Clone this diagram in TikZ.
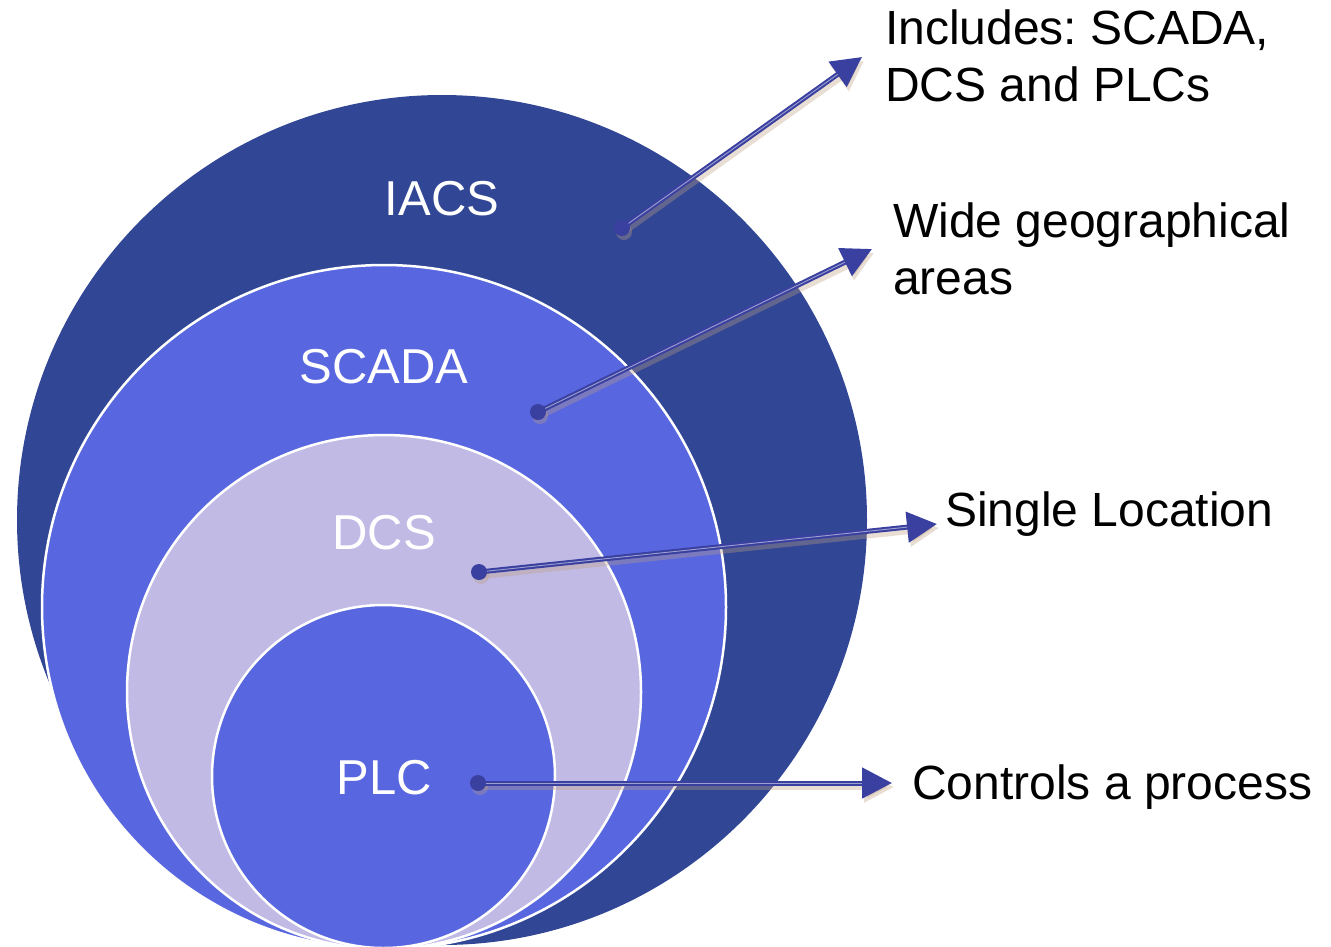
\documentclass[tikz,border=0pt]{standalone}
\usepackage{fontspec}
\setmainfont{Liberation Sans}
\frenchspacing
\usetikzlibrary{arrows.meta,calc}
\definecolor{iacscol}{RGB}{49,70,148}
\definecolor{scadacol}{RGB}{88,103,224}
\definecolor{dcscol}{RGB}{192,186,229}
\definecolor{arrcol}{RGB}{58,64,160}
\definecolor{shadcol}{RGB}{190,160,130}
\tikzset{
  ring/.style={circle, inner sep=0pt, line width=2.5pt},
  inlabel/.style={text=white, font=\fontsize{49}{57}\selectfont, anchor=base, inner sep=0pt},
  outlabel/.style={text=black, font=\fontsize{48}{57}\selectfont, anchor=north west, align=left, inner sep=0pt},
  conn/.style={draw=arrcol, line width=5pt, -{Triangle[length=30pt,width=30pt]}},
  connshadow/.style={draw=shadcol, opacity=.35, line width=6pt, -{Triangle[length=30pt,width=30pt]}},
  stripe/.style={draw=white, opacity=.5, line width=.9pt},
  dot/.style={fill=arrcol}
}
\begin{document}
\begin{tikzpicture}[x=1pt,y=-1pt]
\useasboundingbox (0,0) rectangle (1331,946);
\begin{scope}
\clip (0,0) rectangle (1331,946);
\node[ring, fill=iacscol, minimum size=850pt] (iacs) at (442,520) {};
\node[ring, fill=scadacol, draw=white, minimum size=684pt] (scada) at (384,607) {};
\node[ring, fill=dcscol, draw=white, minimum size=514pt] (dcs) at (384,692) {};
\node[ring, fill=scadacol, draw=white, minimum size=343pt] (plc) at (383.5,776.5) {};
\end{scope}

\node[inlabel] (liacs) at (442,215) {IACS};
\node[inlabel] (lscada) at (384,383) {SCADA};
\node[inlabel] (ldcs) at (384,549) {DCS};
\node[inlabel] (lplc) at (384,794) {PLC};

\node[outlabel] (t1) at (885,10) {Includes: SCADA,\\DCS and PLCs};
\node[outlabel] (t2) at (893,203) {Wide geographical\\areas};
\node[outlabel] (t3) at (945,492) {Single Location};
\node[outlabel] (t4) at (912,765) {Controls a process};

\coordinate (d1) at (622,228); \coordinate (e1) at (862,57);
\coordinate (d2) at (538,412); \coordinate (e2) at (872,249);
\coordinate (d3) at (479,572); \coordinate (e3) at (937,524);
\coordinate (d4) at (478,783); \coordinate (e4) at (892,783);

\foreach \i in {1,2,3,4}{
  \draw[connshadow] ([shift={(2,4)}]d\i) -- ([shift={(2,4)}]e\i);
  \fill[shadcol, opacity=.35] ([shift={(2,4)}]d\i) circle (8);
}
\foreach \i in {1,2,3,4}{
  \draw[conn] (d\i) -- (e\i);
  \draw[stripe] (d\i) -- ($(e\i)!30pt!(d\i)$);
  \fill[dot] (d\i) circle (8);
}
\end{tikzpicture}
\end{document}
